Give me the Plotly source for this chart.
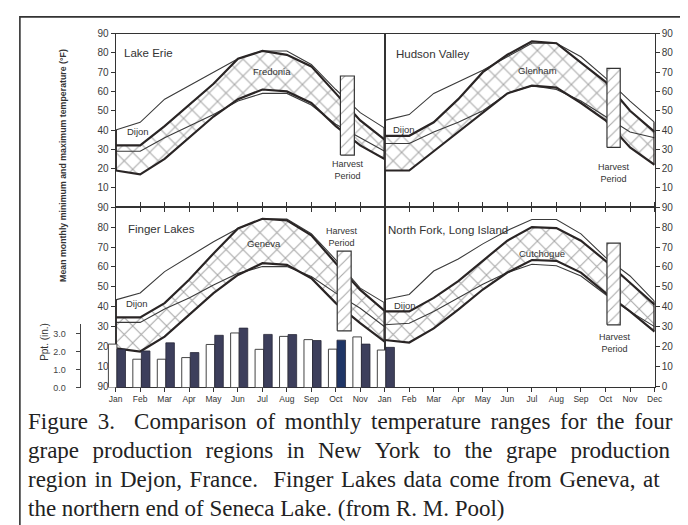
import plotly.graph_objects as go

# browser page has an 8px body margin: the figure fills the rest of the window
OFF = 8
W, H = 680, 517

# ---------------- data ----------------
months = ["Jan", "Feb", "Mar", "Apr", "May", "Jun", "Jul", "Aug", "Sep", "Oct", "Nov", "Dec"]
month_num = list(range(1, 13))

# Lake Erie (Fredonia)
erie_dijon_max = [40, 44, 56, 63, 70, 77, 81, 81, 74, 61, 49, 41]
erie_dijon_min = [29, 29, 36, 42, 48, 55, 59, 59, 53, 43, 36, 29]
fredonia_max = [32, 32, 42, 53, 64, 77, 81, 79, 73, 59, 45, 35]
fredonia_min = [19, 17, 25, 36, 47, 56, 61, 60, 54, 42, 32, 25]

# Hudson Valley (Glenham)
hudson_dijon_max = [45, 48, 59, 65, 71, 78, 85, 85, 78, 67, 55, 44]
hudson_dijon_min = [33, 33, 39, 44, 50, 59, 63, 61, 55, 47, 39, 36]
glenham_max = [37, 37, 44, 56, 70, 79, 86, 85, 75, 65, 50, 39]
glenham_min = [19, 19, 29, 39, 49, 59, 63, 62, 54, 45, 31, 22]

# Finger Lakes (Geneva)
finger_dijon_max = [43.5, 47, 57.7, 65, 72.7, 79.3, 84.2, 84, 76.7, 63.6, 49.4, 42]
finger_dijon_min = [32.2, 32.2, 38.9, 44.4, 51, 56.8, 60.2, 60.2, 55.2, 46.9, 39.3, 30]
geneva_max = [34.7, 34.7, 41.9, 53.6, 66.8, 79.3, 84.2, 83.4, 75.9, 61.9, 48.5, 38]
geneva_min = [19.2, 17.6, 25.1, 36, 46.9, 56, 61.9, 61.1, 54.4, 41.9, 31.8, 22.6]

# North Fork, Long Island (Cutchogue)
nf_dijon_max = [43.7, 46.2, 58, 64, 71.6, 78.3, 83.8, 83.8, 76.6, 64.8, 55.5, 42.8]
nf_dijon_min = [31, 31.8, 37.7, 44.5, 51.3, 57.2, 61.4, 60.6, 55.5, 46.2, 37.7, 30.1]
cutchogue_max = [37.7, 37.7, 44.5, 52.9, 63.1, 73.2, 80, 79.5, 73.2, 63.1, 52.1, 41.1]
cutchogue_min = [23.4, 22.1, 29.2, 38.6, 48.7, 57.2, 63.5, 63.1, 57.2, 47, 37.7, 27.6]

# Harvest period boxes (month position, temperature extent) per panel
harvest_start = [10.19, 10.06, 10.06, 10.06]
harvest_end = [10.76, 10.60, 10.63, 10.60]
harvest_low = [27, 31, 28, 31]
harvest_high = [68, 72, 68, 72]

# Precipitation (in.)
ppt_white = [2.42, 1.58, 1.58, 1.67, 2.40, 3.04, 2.13, 2.85, 2.67, 2.14, 2.82, 2.09]
ppt_dark = [2.14, 2.04, 2.49, 1.95, 2.91, 3.31, 2.96, 2.95, 2.62, 2.64, 2.42, 2.24]

panel_titles = ["Lake Erie", "Hudson Valley", "Finger Lakes", "North Fork, Long Island"]
station_names = ["Fredonia", "Glenham", "Geneva", "Cutchogue"]

temp_ticks_top = [10, 20, 30, 40, 50, 60, 70, 80, 90]
temp_ticks_bottom = [0, 10, 20, 30, 40, 50, 60, 70, 80, 90]
temp_text_bl = ["90", "10", "20", "30", "40", "50", "60", "70", "80", "90"]
ppt_ticks = [0, 1, 2, 3]

# ---------------- helpers ----------------
def px(x):
    return (x - OFF) / W


def py(y):
    return 1 - (y - OFF) / H


DARK = "#2a2525"
THIN = "#3a3a3a"
SANS = "Liberation Sans, Arial, sans-serif"
SERIF = "Liberation Serif, Times New Roman, serif"

panels = [
    ("x", "y", erie_dijon_max, erie_dijon_min, fredonia_max, fredonia_min),
    ("x2", "y2", hudson_dijon_max, hudson_dijon_min, glenham_max, glenham_min),
    ("x3", "y3", finger_dijon_max, finger_dijon_min, geneva_max, geneva_min),
    ("x4", "y4", nf_dijon_max, nf_dijon_min, cutchogue_max, cutchogue_min),
]

fig = go.Figure()

for i, (xa, ya, dmax, dmin, smax, smin) in enumerate(panels):
    # crosshatched station range
    fig.add_trace(go.Scatter(
        x=month_num + month_num[::-1], y=smax + smin[::-1],
        xaxis=xa, yaxis=ya, mode="lines", fill="toself", fillcolor="white",
        fillpattern=dict(shape="x", fgcolor="#4a4a4a", size=12, solidity=0.16),
        line=dict(width=0), hoverinfo="skip"))
    # Dijon lines (thin)
    for s in (dmax, dmin):
        fig.add_trace(go.Scatter(x=month_num, y=s, xaxis=xa, yaxis=ya, mode="lines",
                                 line=dict(color=THIN, width=1.1), hoverinfo="skip"))
    # station lines (thick)
    for s in (smax, smin):
        fig.add_trace(go.Scatter(x=month_num, y=s, xaxis=xa, yaxis=ya, mode="lines",
                                 line=dict(color=DARK, width=2.2), hoverinfo="skip"))
    # end verticals at Jan and Dec
    jan_vals = [dmax[0], dmin[0], smax[0], smin[0]]
    dec_vals = [dmax[-1], dmin[-1], smax[-1], smin[-1]]
    fig.add_trace(go.Scatter(
        x=[month_num[0], month_num[0], None, month_num[-1], month_num[-1]],
        y=[max(jan_vals), min(jan_vals), None, max(dec_vals), min(dec_vals)],
        xaxis=xa, yaxis=ya, mode="lines", line=dict(color=DARK, width=2.4),
        hoverinfo="skip", cliponaxis=False))
    # harvest period box
    hs, he, hl, hh = harvest_start[i], harvest_end[i], harvest_low[i], harvest_high[i]
    fig.add_trace(go.Scatter(
        x=[hs, he, he, hs, hs], y=[hl, hl, hh, hh, hl],
        xaxis=xa, yaxis=ya, mode="lines", fill="toself", fillcolor="white",
        fillpattern=dict(shape="/", fgcolor="#555555", size=8, solidity=0.14),
        line=dict(color="#333333", width=1.2), hoverinfo="skip"))

# precipitation bars
fig.add_trace(go.Bar(x=month_num, y=ppt_white, xaxis="x5", yaxis="y5",
                     offset=-0.3, width=0.35,
                     marker=dict(color="white", line=dict(color="#444444", width=1)),
                     hoverinfo="skip"))
dark_colors = ["#3d3f5c"] * 12
dark_colors[9] = "#1f3566"
fig.add_trace(go.Bar(x=month_num, y=ppt_dark, xaxis="x5", yaxis="y5",
                     offset=0.05, width=0.35,
                     marker=dict(color=dark_colors, line=dict(color="#2a2a3a", width=0.8)),
                     hoverinfo="skip"))

# ---------------- axes ----------------
xl = [px(111), px(386)]
xr = [px(386), px(662)]
yt = [py(206), py(29)]
yb = [py(389), py(206)]

axis_common = dict(showgrid=False, zeroline=False, showline=True, linecolor="#333333",
                   linewidth=1.2, tickcolor="#333333", tickwidth=1)


def xax(domain, anchor, labels):
    d = dict(axis_common, domain=domain, anchor=anchor, range=[1, 12], tickvals=month_num,
             ticks="outside", ticklen=4)
    if labels is None:
        d.update(showticklabels=False, mirror=True)
    else:
        d.update(ticktext=labels, mirror="ticks",
                 tickfont=dict(family=SANS, size=8.5, color="#333333"))
    return d


def yax(domain, anchor, side, vals, text=None):
    d = dict(axis_common, domain=domain, anchor=anchor, range=[0, 90], side=side,
             tickvals=vals, ticks="outside", ticklen=4, mirror=True,
             tickfont=dict(family=SANS, size=10, color="#3a3a3a"))
    if text is not None:
        d["ticktext"] = text
    return d


left_labels = months[:11] + [""]

fig.update_layout(
    width=W, height=H,
    margin=dict(l=0, r=0, t=0, b=0),
    paper_bgcolor="white", plot_bgcolor="rgba(0,0,0,0)",
    showlegend=False, barmode="overlay",
    xaxis=xax(xl, "y", None),
    yaxis=yax(yt, "x", "left", temp_ticks_top),
    xaxis2=xax(xr, "y2", None),
    yaxis2=yax(yt, "x2", "right", temp_ticks_top),
    xaxis3=xax(xl, "y3", left_labels),
    yaxis3=yax(yb, "x3", "left", temp_ticks_bottom, temp_text_bl),
    xaxis4=xax(xr, "y4", months),
    yaxis4=yax(yb, "x4", "right", temp_ticks_bottom),
    xaxis5=dict(domain=[px(99), px(398)], anchor="y5", range=[1 - 12 / 25.0, 12 + 12 / 25.0],
                visible=False),
    yaxis5=dict(domain=[py(390), py(325)], anchor="free", position=px(74), side="left",
                range=[0, 65 / 18.33], tickvals=ppt_ticks, tickformat=".1f",
                showgrid=False, zeroline=False, showline=True, linecolor="#444444",
                linewidth=1, ticks="outside", ticklen=4, tickcolor="#444444",
                ticklabelstandoff=8,
                tickfont=dict(family=SANS, size=9, color="#444444")),
)

# ---------------- annotations ----------------
ann = []


def text(x, y, t, size, xanchor="center", angle=0, color="#333333", family=SANS):
    if xanchor == "left":
        x -= 0.4 * size  # left-anchored annotation boxes carry some extra padding
    ann.append(dict(x=px(x), y=py(y), xref="paper", yref="paper", text=t, showarrow=False,
                    xanchor=xanchor, yanchor="middle", textangle=angle, borderpad=0,
                    align=xanchor if xanchor in ("left", "right") else "center",
                    font=dict(family=family, size=size, color=color)))


title_pos = [(123, 49), (401, 50), (127, 228), (393, 229)]
for t, (x, y) in zip(panel_titles, title_pos):
    text(x, y, t, 11.5, xanchor="left")

station_pos = [(271, 68), (542, 67), (263, 243), (547, 253)]
for t, (x, y) in zip(station_names, station_pos):
    text(x, y, t, 9.5)

for (x, y) in [(134, 129), (406, 127), (133, 304), (407, 306)]:
    text(x, y, "Dijon", 9.5)

for (x, y) in [(349, 168), (620, 171), (342, 236), (622, 344)]:
    text(x, y, "Harvest<br>Period", 9)

text(57, 163, "<b>Mean monthly minimum and maximum temperature (°F)</b>", 8.8, angle=-90,
     color="#333333")
text(38, 343, "Ppt. (in.)", 10, angle=-90)

# caption (justified lines: a little extra word spacing on lines 1-3)
caption_lines = [
    "Figure 3.  Comparison of monthly temperature ranges for the four",
    "grape production regions in New York to the grape production",
    "region in Dejon, France.  Finger Lakes data come from Geneva, at",
    "the northern end of Seneca Lake. (from R. M. Pool)",
]
extra_space = ["\u2006", "\u2006\u2006", "\u200a", ""]
for k, line in enumerate(caption_lines):
    t = line.replace(" ", " " + extra_space[k]) if extra_space[k] else line
    text(29, 425 + 29.5 * k, t, 23, xanchor="left", color="#222222", family=SERIF)

fig.update_layout(annotations=ann)

# outer border
fig.add_shape(type="rect", xref="paper", yref="paper", x0=px(13), y0=-0.05, x1=1.05,
              y1=py(12), line=dict(color="#333333", width=1.6), fillcolor="rgba(0,0,0,0)")

fig.write_html("out.html")
